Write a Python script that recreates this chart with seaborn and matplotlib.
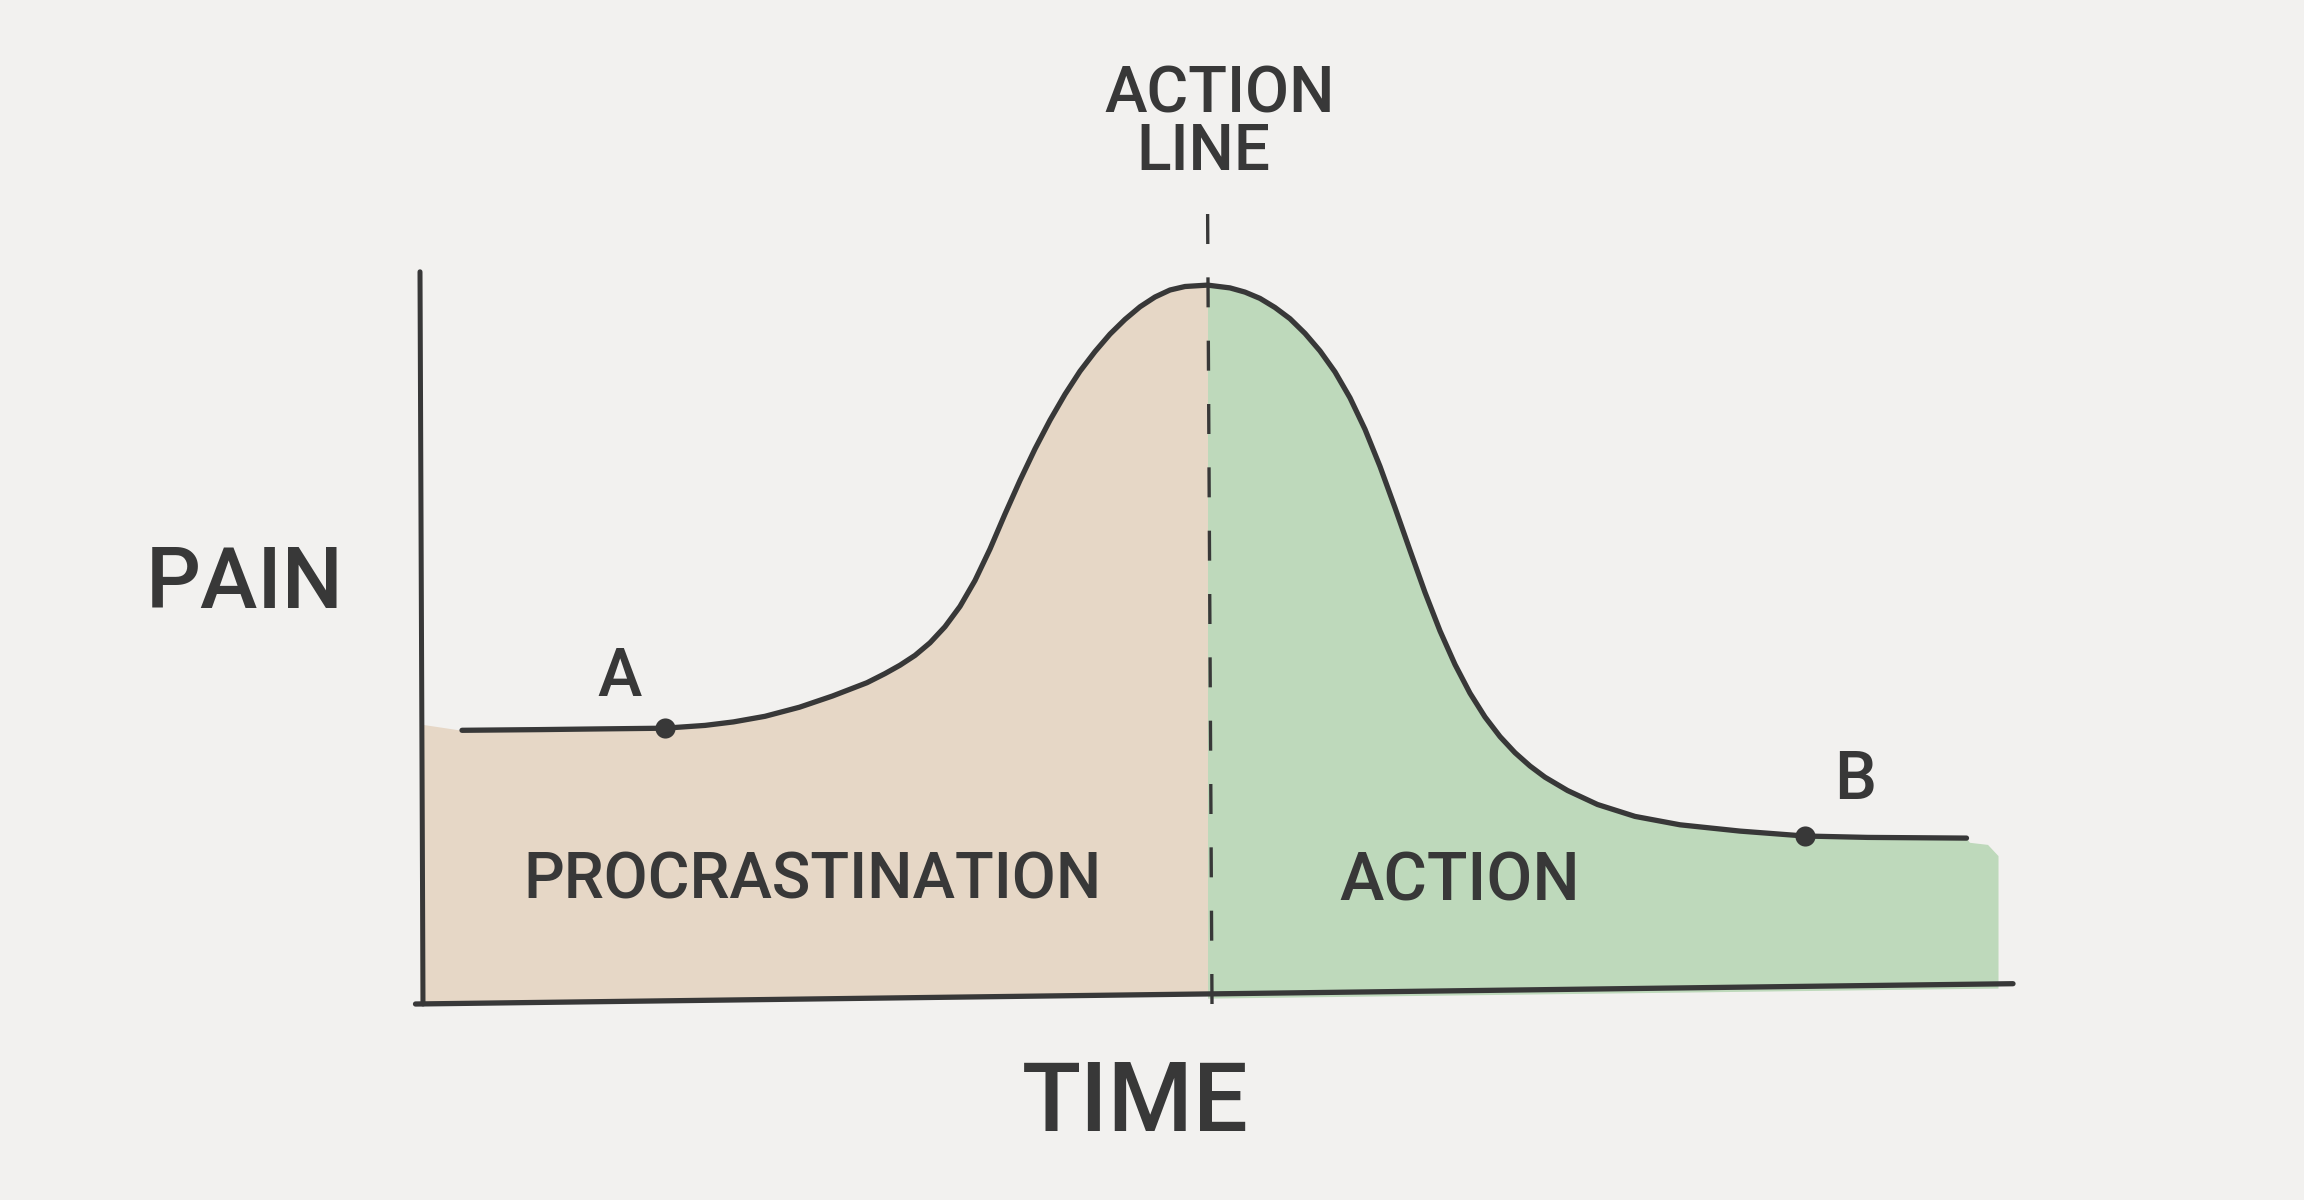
import numpy as np
import matplotlib
matplotlib.use("Agg")
import matplotlib.pyplot as plt
import seaborn as sns
import pandas as pd

# pain curve (arbitrary time / pain units)
time = [0.28, 0.80, 1.20, 1.63, 1.90, 2.09, 2.30, 2.53, 2.75, 2.98, 3.10, 3.20,
        3.30, 3.40, 3.50, 3.60, 3.70, 3.80, 3.90, 4.00, 4.10, 4.20, 4.30, 4.40,
        4.50, 4.60, 4.70, 4.80, 4.90, 5.00, 5.10, 5.25, 5.40, 5.50, 5.60, 5.70,
        5.80, 5.90, 6.00, 6.10, 6.20, 6.30, 6.40, 6.50, 6.60, 6.70, 6.80, 6.90,
        7.00, 7.10, 7.20, 7.30, 7.40, 7.50, 7.65, 7.85, 8.10, 8.40, 8.80, 9.23,
        9.65, 10.31]
pain = [3.91, 3.92, 3.93, 3.94, 3.98, 4.03, 4.11, 4.24, 4.40, 4.59, 4.72, 4.84,
        4.98, 5.16, 5.39, 5.68, 6.05, 6.50, 7.00, 7.48, 7.93, 8.34, 8.71, 9.04,
        9.32, 9.57, 9.78, 9.96, 10.10, 10.20, 10.25, 10.27, 10.23, 10.17, 10.08, 9.95,
        9.79, 9.58, 9.33, 9.03, 8.66, 8.21, 7.68, 7.09, 6.48, 5.88, 5.33, 4.85,
        4.44, 4.10, 3.82, 3.59, 3.40, 3.24, 3.05, 2.85, 2.68, 2.56, 2.47, 2.40,
        2.38, 2.37]

action_time = 5.25
points = ["A", "B"]
point_time = [1.63, 9.23]
point_pain = [3.94, 2.40]

# hand-drawn axes (time axis is slightly tilted in the sketch)
time_axis_t = [-0.03, 10.62]
time_axis_p = [0.0, 0.29]
pain_axis_t = [0.02, 0.0]
pain_axis_p = [0.0, 10.46]
action_line_t = [5.28, 5.25]
action_line_p = [0.0, 11.6]

# extra green paint past the end of the curve
green_tail_t = [10.33, 10.45, 10.52]
green_tail_p = [2.31, 2.28, 2.12]
beige_start_p = 4.0

bg = "#f2f1ef"
beige = "#e6d7c6"
green = "#bed9bb"
ink = "#383838"

sns.set_theme(style="white", rc={"axes.facecolor": bg, "figure.facecolor": bg})
plt.rcParams["font.family"] = ["Roboto", "DejaVu Sans"]

fig = plt.figure(figsize=(23.04, 12), dpi=100)
ax = fig.add_axes([0, 0, 1, 1])
ax.set_xlim(-2.8, 12.56)
ax.set_ylim(-2.8, 14.343)
ax.axis("off")

df = pd.DataFrame({"time": time, "pain": pain})

# coloured areas under the curve
left = df[df["time"] <= action_time]
ft = np.concatenate([[0.0], left["time"].values])
fp = np.concatenate([[beige_start_p], left["pain"].values])
ax.fill_between(ft, np.interp(ft, time_axis_t, time_axis_p), fp,
                color=beige, lw=0, zorder=1)

right = df[df["time"] >= action_time]
gt = np.concatenate([right["time"].values, green_tail_t])
gp = np.concatenate([right["pain"].values, green_tail_p])
ax.fill_between(gt, np.interp(gt, time_axis_t, time_axis_p) - 0.06, gp,
                color=green, lw=0, zorder=1)

# axes lines
ax.plot(time_axis_t, time_axis_p, color=ink, lw=3.8, solid_capstyle="round", zorder=3)
ax.plot(pain_axis_t, pain_axis_p, color=ink, lw=3.6, solid_capstyle="round", zorder=3)

# action line
ax.plot(action_line_t, action_line_p, color=ink, lw=2.4, dashes=(9, 10), zorder=3)

# the pain curve
sns.lineplot(data=df, x="time", y="pain", sort=False, estimator=None, ax=ax,
             color=ink, lw=3.8, zorder=4)
for l in ax.lines:
    l.set_solid_joinstyle("round")
    l.set_solid_capstyle("round")

sns.scatterplot(x=point_time, y=point_pain, ax=ax, color=ink, s=210,
                linewidth=0, zorder=5)

txt = dict(color=ink, ha="center", va="center", fontweight="medium")
ax.text(5.33, 12.99, "ACTION", fontsize=46, **txt)
ax.text(5.22, 12.17, "LINE", fontsize=46, **txt)
ax.text(-1.17, 5.99, "PAIN", fontsize=62, **txt)
ax.text(4.77, -1.44, "TIME", fontsize=70, **txt)
ax.text(2.62, 1.77, "PROCRASTINATION", fontsize=46, **txt)
ax.text(6.93, 1.74, "ACTION", fontsize=48, **txt)
ax.text(1.33, 4.66, points[0], fontsize=48, **txt)
ax.text(9.57, 3.19, points[1], fontsize=48, **txt)

ax.set_xlabel("")
ax.set_ylabel("")
fig.savefig("out.png", dpi=100, facecolor=bg)
